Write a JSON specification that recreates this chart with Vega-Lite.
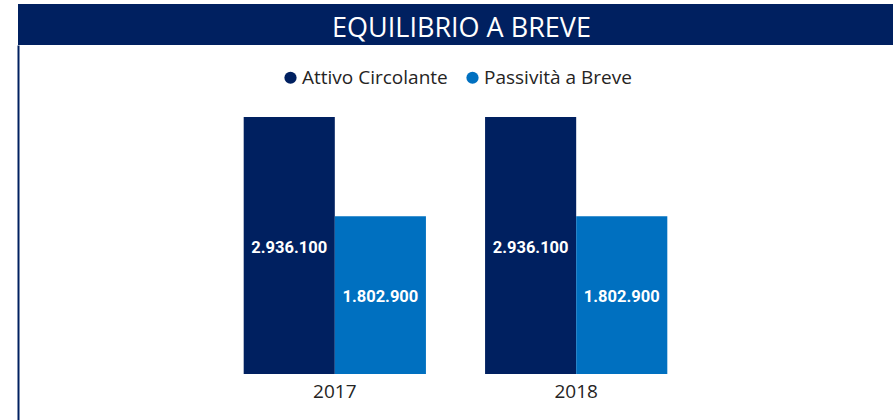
{
  "$schema": "https://vega.github.io/schema/vega-lite/v6.json",
  "padding": {"left": 18, "top": 4, "right": 0, "bottom": 0},
  "background": "white",
  "spacing": 0,
  "config": {
    "locale": {"number": {"decimal": ",", "thousands": ".", "grouping": [3], "currency": ["€", ""]}},
    "view": {"stroke": null},
    "font": "Open Sans"
  },
  "vconcat": [
    {
      "width": 875,
      "height": 41,
      "view": {"fill": "#002060", "stroke": null},
      "data": {"values": [{"title": "EQUILIBRIO A BREVE"}]},
      "mark": {"type": "text", "color": "white", "fontSize": 27, "font": "Open Sans", "dx": 6, "dy": 4},
      "encoding": {"text": {"field": "title", "type": "nominal"}}
    },
    {
      "width": 875,
      "height": 375,
      "data": {
        "values": [
          {"year": "2017", "series": "Attivo Circolante", "value": 2936100},
          {"year": "2017", "series": "Passività a Breve", "value": 1802900},
          {"year": "2018", "series": "Attivo Circolante", "value": 2936100},
          {"year": "2018", "series": "Passività a Breve", "value": 1802900}
        ]
      },
      "encoding": {
        "x": {
          "field": "year",
          "type": "nominal",
          "scale": {"paddingInner": 0.245, "paddingOuter": 0.935},
          "axis": {
            "title": null,
            "labelAngle": 0,
            "domain": false,
            "ticks": false,
            "labelPadding": 0,
            "offset": -38,
            "labelFontSize": 19,
            "labelColor": "#252423",
            "labelFont": "Open Sans"
          }
        },
        "xOffset": {
          "field": "series",
          "type": "nominal",
          "sort": ["Attivo Circolante", "Passività a Breve"],
          "scale": {"paddingInner": 0, "paddingOuter": 0}
        }
      },
      "layer": [
        {
          "mark": {"type": "bar"},
          "encoding": {
            "y": {
              "field": "value",
              "type": "quantitative",
              "scale": {"domain": [-525500, 3758700], "nice": false, "zero": false},
              "axis": {"orient": "left", "domain": true, "domainColor": "#002060", "domainWidth": 2, "ticks": false, "labels": false, "grid": false, "title": null}
            },
            "y2": {"datum": 0},
            "color": {
              "field": "series",
              "type": "nominal",
              "scale": {"domain": ["Attivo Circolante", "Passività a Breve"], "range": ["#002060", "#0070C0"]},
              "legend": {
                "title": null,
                "orient": "none",
                "legendX": 263,
                "legendY": 64,
                "direction": "horizontal",
                "symbolType": "circle",
                "symbolSize": 150,
                "symbolStrokeWidth": 0,
                "symbolOpacity": 1,
                "labelFontSize": 19,
                "labelFont": "Open Sans",
                "labelColor": "#252423",
                "labelOffset": 2,
                "columnPadding": 15
              }
            }
          }
        },
        {
          "transform": [{"calculate": "datum.value / 2", "as": "mid"}],
          "mark": {"type": "text", "color": "white", "fontSize": 16.5, "fontWeight": "bold", "font": "Roboto", "dy": 2},
          "encoding": {
            "y": {
              "field": "mid",
              "type": "quantitative",
              "scale": {"domain": [-525500, 3758700], "nice": false, "zero": false},
              "axis": {"orient": "left", "domain": true, "domainColor": "#002060", "domainWidth": 2, "ticks": false, "labels": false, "grid": false, "title": null}
            },
            "text": {"field": "value", "type": "quantitative", "format": ",d"}
          }
        }
      ]
    }
  ]
}
